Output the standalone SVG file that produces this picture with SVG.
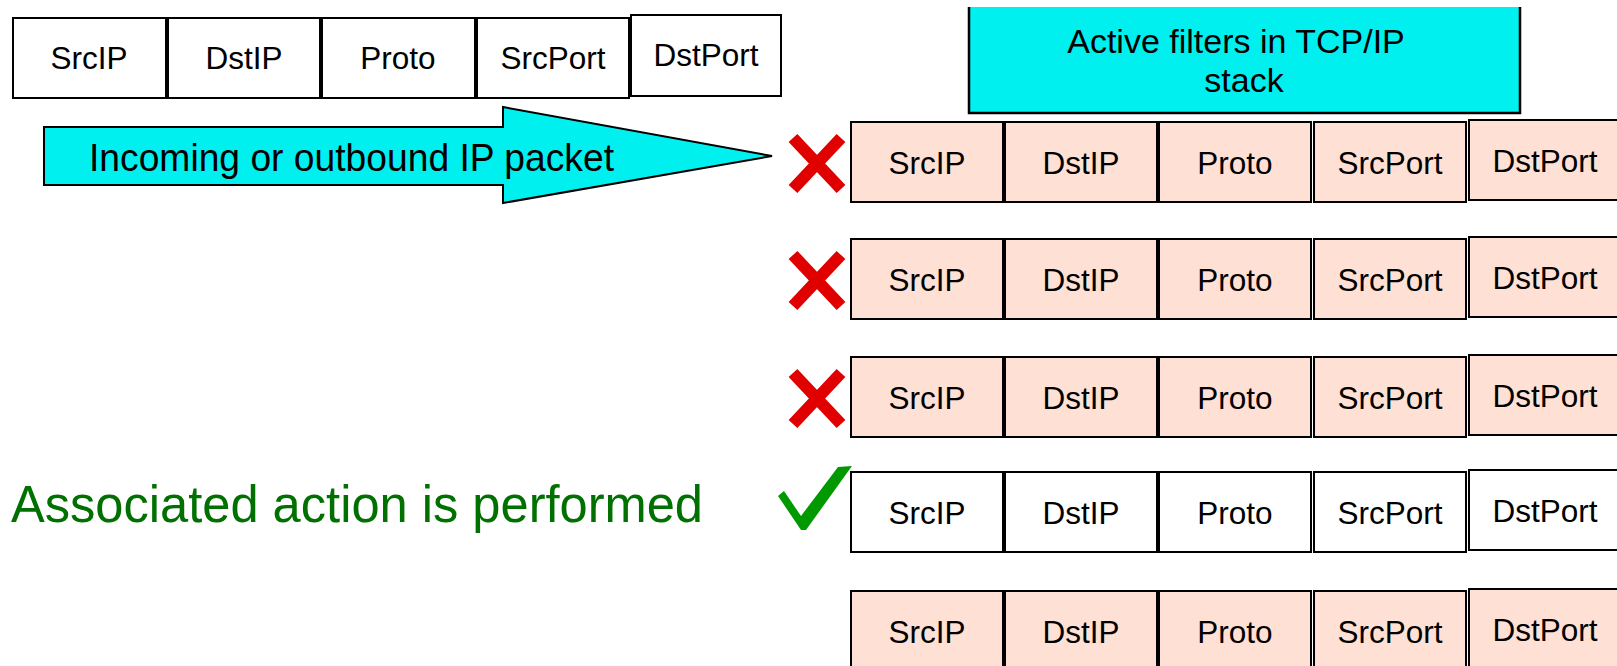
<svg xmlns="http://www.w3.org/2000/svg" width="1617" height="666" viewBox="0 0 1617 666">
  <style>
    .cell { stroke: #000; stroke-width: 2; }
    .plain { fill: #fff; }
    .peach { fill: #ffe0d5; }
    .lbl { font-family: "Liberation Sans", Arial, sans-serif; font-size: 31.5px; fill: #000; text-anchor: middle; }
    .big { font-family: "Liberation Sans", Arial, sans-serif; fill: #000; }
    .ok { font-family: "Liberation Sans", Arial, sans-serif; fill: #007000; }
    .cross { stroke: #e00000; stroke-width: 12; stroke-linecap: butt; fill: none; }
  </style>
  <defs>
    <!-- one five-field filter row, drawn at origin; cell fill comes from the row; DstPort cell sits 2px higher -->
    <g id="fields">
      <rect class="cell" x="0" y="0" width="152" height="80"/>
      <rect class="cell" x="154" y="0" width="152" height="80"/>
      <rect class="cell" x="308" y="0" width="152" height="80"/>
      <rect class="cell" x="463" y="0" width="152" height="80"/>
      <rect class="cell" x="618" y="-2" width="160" height="80"/>
      <text class="lbl" x="76" y="52">SrcIP</text>
      <text class="lbl" x="230" y="52">DstIP</text>
      <text class="lbl" x="384" y="52">Proto</text>
      <text class="lbl" x="539" y="52">SrcPort</text>
      <text class="lbl" x="694" y="50">DstPort</text>
    </g>
  </defs>

  <!-- packet header fields -->
  <g id="packet-header" class="plain">
    <rect class="cell" x="13" y="18" width="153" height="80"/>
    <rect class="cell" x="168" y="18" width="152" height="80"/>
    <rect class="cell" x="322" y="18" width="153" height="80"/>
    <rect class="cell" x="477" y="18" width="152" height="80"/>
    <rect class="cell" x="631" y="15" width="150" height="81"/>
    <text class="lbl" x="89" y="69">SrcIP</text>
    <text class="lbl" x="244" y="69">DstIP</text>
    <text class="lbl" x="398" y="69">Proto</text>
    <text class="lbl" x="553" y="69">SrcPort</text>
    <text class="lbl" x="706" y="66">DstPort</text>
  </g>

  <!-- title box -->
  <g id="filters-title">
    <rect x="969" y="7" width="551" height="106" fill="#00efef"/>
    <path d="M969 7 V113 H1520 V7" fill="none" stroke="#000" stroke-width="2.5"/>
    <text class="big" font-size="34" text-anchor="middle" x="1236" y="53">Active filters in TCP/IP</text>
    <text class="big" font-size="34" text-anchor="middle" x="1244" y="92">stack</text>
  </g>

  <!-- block arrow carrying the packet -->
  <g id="connectors">
    <path d="M44 127 H503 V107 L772 156 L503 203 V185 H44 Z" fill="#00efef" stroke="#000" stroke-width="2"/>
    <text class="big" font-size="39" x="89" y="171" textLength="525" lengthAdjust="spacingAndGlyphs">Incoming or outbound IP packet</text>
  </g>

  <!-- filter rows -->
  <g id="filter-1" class="peach">
    <use href="#fields" x="851" y="122"/>
    <path class="cross" d="M793 138 L841 189 M841 138 L793 189"/>
  </g>
  <g id="filter-2" class="peach">
    <use href="#fields" x="851" y="239"/>
    <path class="cross" d="M793 255 L841 306 M841 255 L793 306"/>
  </g>
  <g id="filter-3" class="peach">
    <use href="#fields" x="851" y="357"/>
    <path class="cross" d="M793 373 L841 424 M841 373 L793 424"/>
  </g>
  <g id="filter-4" class="plain">
    <use href="#fields" x="851" y="472"/>
    <polygon points="778,496 784,491 801,516 838,467 852,466 806,530 801,530" fill="#009a00"/>
  </g>
  <g id="filter-5" class="peach">
    <use href="#fields" x="851" y="591"/>
  </g>

  <!-- result label -->
  <g id="result">
    <text class="ok" font-size="52" x="11" y="522" textLength="692" lengthAdjust="spacingAndGlyphs">Associated action is performed</text>
  </g>
</svg>
